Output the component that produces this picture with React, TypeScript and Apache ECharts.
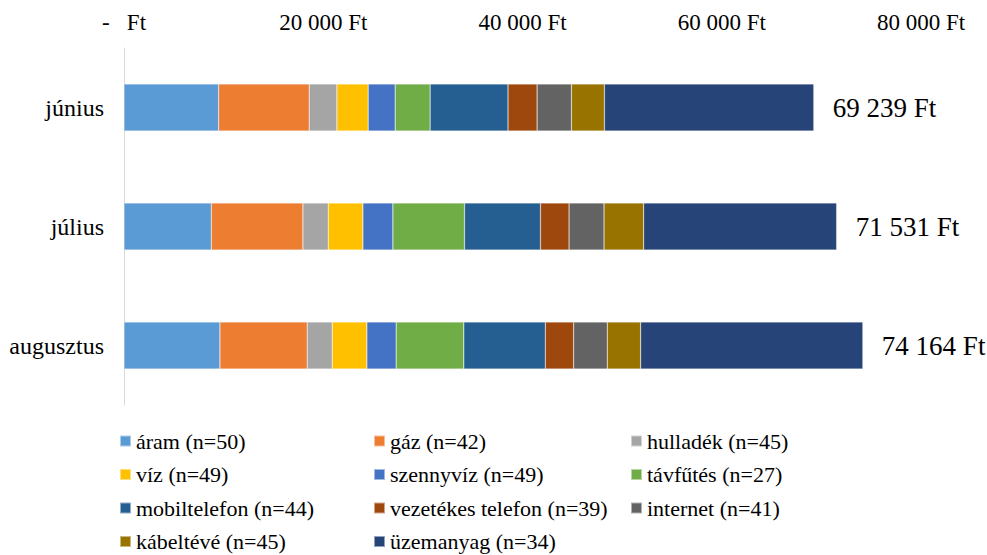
import React, { useEffect, useRef } from "react";
import * as echarts from "echarts";

const categories = ["június", "július", "augusztus"];
const seriesNames = [
  "áram (n=50)",
  "gáz (n=42)",
  "hulladék (n=45)",
  "víz (n=49)",
  "szennyvíz (n=49)",
  "távfűtés (n=27)",
  "mobiltelefon (n=44)",
  "vezetékes telefon (n=39)",
  "internet (n=41)",
  "kábeltévé (n=45)",
  "üzemanyag (n=34)",
];
const aram = [9500, 8760, 9630];
const gaz = [9090, 9200, 8760];
const hulladek = [2780, 2540, 2510];
const viz = [3140, 3480, 3480];
const szennyviz = [2710, 3010, 2940];
const tavfutes = [3510, 7190, 6790];
const mobiltelefon = [7815, 7625, 8180];
const vezetekes = [2920, 2870, 2850];
const internet = [3450, 3510, 3370];
const kabelteve = [3310, 3980, 3350];
const uzemanyag = [21014, 19366, 22304];
const totals = [69239, 71531, 74164];
const xTicks = [0, 20000, 40000, 60000, 80000];

const seriesValues = [
  aram, gaz, hulladek, viz, szennyviz, tavfutes,
  mobiltelefon, vezetekes, internet, kabelteve, uzemanyag,
];
const colors = [
  "#5B9BD5", "#ED7D31", "#A5A5A5", "#FFC000", "#4472C4", "#70AD47",
  "#255E91", "#9E480E", "#636363", "#997300", "#264478",
];

const FONT = "Times New Roman, Liberation Serif, DejaVu Serif, serif";

function fmt(n: number): string {
  if (n === 0) return "-   Ft";
  const s = String(Math.round(n)).replace(/\B(?=(\d{3})+(?!\d))/g, " ");
  return s + " Ft";
}

export default function App() {
  const ref = useRef<HTMLDivElement>(null);
  useEffect(() => {
    if (!ref.current) return;
    const chart = echarts.init(ref.current, undefined, { renderer: "svg" });
    const legendCol = (names: string[], left: number) => ({
      orient: "vertical",
      left,
      top: 430,
      padding: 0,
      itemWidth: 11,
      itemHeight: 11,
      itemGap: 11.5,
      icon: "rect",
      data: names,
      textStyle: { fontFamily: FONT, fontSize: 22, lineHeight: 22, color: "#000" },
    });
    chart.setOption({
      animation: false,
      backgroundColor: "#fff",
      color: colors,
      textStyle: { fontFamily: FONT },
      grid: { left: 124, right: 66, top: 48, bottom: 150, containLabel: false },
      xAxis: {
        type: "value",
        position: "top",
        min: xTicks[0],
        max: xTicks[xTicks.length - 1],
        interval: xTicks[1] - xTicks[0],
        axisLine: { show: false },
        axisTick: { show: false },
        splitLine: { show: false },
        axisLabel: {
          margin: 14,
          fontFamily: FONT,
          fontSize: 23,
          color: "#000",
          formatter: (v: number) => fmt(v),
        },
      },
      yAxis: {
        type: "category",
        inverse: true,
        data: categories,
        axisLine: { show: true, lineStyle: { color: "#D9D9D9", width: 1 } },
        axisTick: { show: false },
        axisLabel: { margin: 20, fontFamily: FONT, fontSize: 24, color: "#000" },
      },
      legend: [
        legendCol([seriesNames[0], seriesNames[3], seriesNames[6], seriesNames[9]], 119),
        legendCol([seriesNames[1], seriesNames[4], seriesNames[7], seriesNames[10]], 373),
        legendCol([seriesNames[2], seriesNames[5], seriesNames[8]], 630),
      ],
      series: seriesNames.map((name, i) => ({
        name,
        type: "bar",
        stack: "total",
        barWidth: 47,
        data: seriesValues[i],
        itemStyle: { color: colors[i], borderColor: "rgba(255,255,255,0.5)", borderWidth: 0.5 },
        label:
          i === seriesNames.length - 1
            ? {
                show: true,
                position: "right",
                distance: 19,
                fontFamily: FONT,
                fontSize: 27,
                color: "#000",
                formatter: (p: any) => fmt(totals[p.dataIndex]),
              }
            : { show: false },
      })),
    });
    return () => chart.dispose();
  }, []);
  return (
    <div
      ref={ref}
      style={{ position: "fixed", left: 0, top: 0, width: 987, height: 555 }}
    />
  );
}
